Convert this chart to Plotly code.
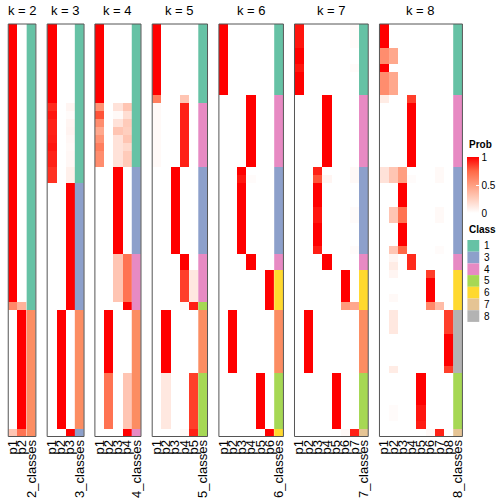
import plotly.graph_objects as go

W = H = 504
ks = [2, 3, 4, 5, 6, 7, 8]
n_rows = 52

class_colors = {1: "#66C2A5", 2: "#FC8D62", 3: "#8DA0CB", 4: "#E78AC3",
                5: "#A6D854", 6: "#FFD92F", 7: "#E5C494", 8: "#B3B3B3"}
legend_classes = [1, 3, 4, 5, 6, 7, 8]

# ---------------- class assignments per row ----------------
classes_k2 = [1] * 36 + [2] * 16
classes_k3 = [1] * 20 + [3] * 16 + [2] * 15 + [3]
classes_k4 = [1] * 18 + [3] * 11 + [4] * 7 + [2] * 15 + [4]
classes_k5 = [1] * 10 + [4] * 8 + [3] * 11 + [4] * 6 + [5] + [2] * 8 + [5] * 8
classes_k6 = [1] * 9 + [4] * 9 + [3] * 11 + [4] * 2 + [6] * 5 + [2] * 8 + [5] * 7 + [6]
classes_k7 = [1] * 9 + [4] * 9 + [3] * 11 + [4] * 2 + [6] * 5 + [2] * 8 + [5] * 7 + [7]
classes_k8 = [1] * 9 + [4] * 9 + [3] * 11 + [4] * 2 + [6] * 5 + [8] * 8 + [5] * 7 + [7]

# ---------------- membership probabilities per row ----------------
prob_k2 = ([[1.00, 0.00]] * 35 + [[0.60, 0.40]] + [[0.00, 1.00]] * 15 + [[0.30, 0.70]])

prob_k3 = ([[1, 0, 0]] * 10
           + [[0.90, 0, 0.05], [0.95, 0, 0.02], [0.92, 0, 0.05], [0.92, 0, 0.06], [0.93, 0, 0.04],
              [0.95, 0, 0.03], [0.92, 0, 0.04], [0.92, 0, 0.04], [0.88, 0, 0.08], [0.88, 0, 0.08]]
           + [[0, 0, 1]] * 16 + [[0, 1, 0]] * 15 + [[0, 0, 1]])

prob_k4 = ([[1, 0, 0, 0]] * 10
           + [[0.55, 0, 0.15, 0.30], [0.80, 0, 0.03, 0.17], [0.58, 0, 0.15, 0.27], [0.45, 0, 0.30, 0.25],
              [0.55, 0, 0.15, 0.30], [0.65, 0, 0.15, 0.20], [0.58, 0, 0.15, 0.27], [0.58, 0, 0.15, 0.27]]
           + [[0, 0, 1, 0]] * 11 + [[0, 0, 0.30, 0.70]] * 6 + [[0, 0, 0, 1]]
           + [[0, 1, 0, 0]] * 8 + [[0, 0.70, 0, 0.30]] * 7 + [[0, 0, 0, 1]])

prob_k5 = ([[1, 0, 0, 0, 0]] * 9 + [[0.65, 0, 0, 0.30, 0]] + [[0.03, 0, 0, 0.92, 0]] * 8
           + [[0, 0, 1, 0, 0]] * 11 + [[0, 0, 0, 1, 0]] * 2 + [[0, 0, 0, 0.85, 0.12]] * 4
           + [[0, 0, 0, 0.03, 0.93]] + [[0, 1, 0, 0, 0]] * 8 + [[0, 0.12, 0, 0, 0.85]] * 7
           + [[0, 0, 0, 0.03, 0.92]])

prob_k6 = ([[1, 0, 0, 0, 0, 0]] * 9 + [[0, 0, 0, 1, 0, 0]] * 9 + [[0, 0, 1, 0, 0, 0]]
           + [[0, 0, 0.95, 0.02, 0, 0]] + [[0, 0, 1, 0, 0, 0]] * 9 + [[0, 0, 0, 1, 0, 0]] * 2
           + [[0, 0, 0, 0, 0, 1]] * 5 + [[0, 1, 0, 0, 0, 0]] * 8 + [[0, 0, 0, 0, 1, 0]] * 7
           + [[0, 0, 0, 0, 0, 1]])

prob_k7 = ([[0.95, 0, 0, 0, 0, 0, 0.02]] * 3 + [[1, 0, 0, 0, 0, 0, 0]] * 2
           + [[0.95, 0, 0, 0, 0, 0, 0.02]] + [[1, 0, 0, 0, 0, 0, 0]] * 3
           + [[0, 0, 0, 1, 0, 0, 0]] * 9
           + [[0, 0, 0.92, 0, 0, 0, 0.03]] + [[0, 0, 0.80, 0.05, 0, 0, 0.03]]
           + [[0, 0, 1, 0, 0, 0, 0]] * 3 + [[0, 0, 0.95, 0, 0, 0, 0.02]] * 2
           + [[0, 0, 1, 0, 0, 0, 0]] * 3 + [[0, 0, 0.93, 0, 0, 0, 0.02]]
           + [[0, 0, 0, 1, 0, 0, 0]] * 2
           + [[0, 0, 0, 0, 0, 1, 0]] * 4 + [[0, 0, 0, 0, 0, 0.52, 0.45]]
           + [[0, 1, 0, 0, 0, 0, 0]] * 8 + [[0, 0, 0, 0, 1, 0, 0]] * 7
           + [[0, 0, 0, 0, 0, 0.03, 0.92]])

prob_k8 = ([[1, 0, 0, 0, 0, 0, 0, 0]] * 3 + [[0.58, 0.45, 0, 0, 0, 0, 0, 0]] * 2
           + [[1, 0, 0, 0, 0, 0, 0, 0]] + [[0.58, 0.45, 0, 0, 0, 0, 0, 0]] * 3
           + [[0.10, 0, 0, 0.85, 0, 0, 0, 0]] + [[0, 0, 0, 1, 0, 0, 0, 0]] * 8
           + [[0.15, 0.30, 0.50, 0, 0, 0, 0.03, 0]] + [[0.15, 0.30, 0.50, 0.02, 0, 0, 0.03, 0]]
           + [[0, 0, 1, 0, 0, 0, 0, 0]] * 3 + [[0, 0.30, 0.70, 0, 0, 0, 0.03, 0]] * 2
           + [[0, 0, 1, 0, 0, 0, 0, 0]] * 3 + [[0, 0.30, 0.75, 0, 0, 0, 0.02, 0]]
           + [[0, 0.05, 0, 0.90, 0, 0, 0, 0]] + [[0, 0.10, 0, 0.90, 0, 0, 0, 0]]
           + [[0, 0.05, 0, 0, 0, 0.85, 0, 0]] + [[0, 0, 0, 0, 0, 1, 0, 0]] * 2
           + [[0, 0.03, 0, 0, 0, 1, 0, 0]] + [[0, 0, 0, 0, 0, 0.60, 0.35, 0]]
           + [[0, 0.12, 0, 0, 0, 0, 0, 0.85]] * 3 + [[0, 0, 0, 0, 0, 0, 0, 1]] * 4
           + [[0, 0.10, 0, 0, 0, 0, 0, 0.85]]
           + [[0, 0, 0, 0, 1, 0, 0, 0]] * 4 + [[0, 0.02, 0, 0, 0.95, 0, 0, 0]] * 2
           + [[0, 0, 0, 0, 0.93, 0, 0, 0]] + [[0, 0, 0, 0, 0, 0.03, 0.92, 0]])

classes_all = [classes_k2, classes_k3, classes_k4, classes_k5, classes_k6, classes_k7, classes_k8]
probs_all = [prob_k2, prob_k3, prob_k4, prob_k5, prob_k6, prob_k7, prob_k8]

# ---------------- layout geometry (pixels) ----------------
col_w = 9.33
panel_left = [5.3, 44.7, 93.0, 151.0, 218.5, 295.0, 381.0]
top_px, bottom_px = 24.0, 436.5

prob_scale = [[0.0, "#FFFFFF"], [0.25, "#FFCFBF"], [0.5, "#FF9E81"],
              [0.75, "#FF6846"], [1.0, "#FF0000"]]
class_scale = []
for c in range(1, 9):
    class_scale.append([(c - 1) / 8, class_colors[c]])
    class_scale.append([c / 8, class_colors[c]])

fig = go.Figure()
shapes = []
annotations = []
rows = list(range(n_rows))

for i, k in enumerate(ks):
    ax = "x" if i == 0 else f"x{i + 1}"
    axname = "xaxis" if i == 0 else f"xaxis{i + 1}"
    left = panel_left[i]
    right = left + col_w * (k + 1)
    dom = [left / W, right / W]

    fig.add_trace(go.Heatmap(
        z=probs_all[i], x=list(range(k)), y=rows, xaxis=ax, yaxis="y",
        zmin=0, zmax=1, colorscale=prob_scale, showscale=(i == 0),
        hoverinfo="skip",
        colorbar=dict(
            x=470 / W, xanchor="left", xpad=0, y=1 - 157 / H, yanchor="top", ypad=0,
            len=56, lenmode="pixels", thickness=12, thicknessmode="pixels",
            outlinewidth=0, tickvals=[0, 0.5, 1], ticktext=["0", "0.5", "1"],
            ticks="inside", ticklen=3, tickcolor="white",
            tickfont=dict(size=10, color="black"),
        ) if i == 0 else None,
    ))
    fig.add_trace(go.Heatmap(
        z=[[c] for c in classes_all[i]], x=[k], y=rows, xaxis=ax, yaxis="y",
        zmin=0.5, zmax=8.5, colorscale=class_scale, showscale=False, hoverinfo="skip",
    ))

    fig.update_layout(**{axname: dict(
        domain=dom, range=[-0.5, k + 0.5], anchor="y",
        tickvals=list(range(k + 1)),
        ticktext=[f"p{j + 1}" for j in range(k)] + [f"{k}_classes"],
        tickangle=-90, tickfont=dict(size=13, color="black"),
        showgrid=False, zeroline=False, showline=False, ticks="", fixedrange=True,
    )})

    shapes.append(dict(type="rect", xref="paper", yref="paper",
                       x0=dom[0], x1=dom[1], y0=1 - bottom_px / H, y1=1 - top_px / H,
                       line=dict(color="#555555", width=1)))
    annotations.append(dict(text=f"k = {k}", xref="paper", yref="paper",
                            x=(dom[0] + dom[1]) / 2, y=1 - 10 / H, showarrow=False,
                            xanchor="center", yanchor="middle",
                            font=dict(size=13, color="black")))

# Prob legend title
annotations.append(dict(text="<b>Prob</b>", xref="paper", yref="paper", x=470 / W,
                        y=1 - 144 / H, xanchor="left", yanchor="middle", showarrow=False,
                        font=dict(size=10, color="black")))

# Class legend
annotations.append(dict(text="<b>Class</b>", xref="paper", yref="paper", x=470 / W,
                        y=1 - 230 / H, xanchor="left", yanchor="middle", showarrow=False,
                        font=dict(size=10, color="black")))
sq = 11.7
for j, c in enumerate(legend_classes):
    y0 = 240 + sq * j
    shapes.append(dict(type="rect", xref="paper", yref="paper",
                       x0=470 / W, x1=482 / W, y0=1 - (y0 + sq) / H, y1=1 - y0 / H,
                       fillcolor=class_colors[c], line=dict(width=0)))
    annotations.append(dict(text=str(c), xref="paper", yref="paper", x=485 / W,
                            y=1 - (y0 + sq / 2) / H, xanchor="left", yanchor="middle",
                            showarrow=False, font=dict(size=10, color="black")))

fig.update_layout(
    width=W, height=H, margin=dict(l=0, r=0, t=0, b=0),
    paper_bgcolor="white", plot_bgcolor="white",
    font=dict(family="Liberation Sans, Arial, sans-serif", color="black"),
    yaxis=dict(domain=[1 - bottom_px / H, 1 - top_px / H], range=[n_rows - 0.5, -0.5],
               visible=False, fixedrange=True),
    shapes=shapes, annotations=annotations, showlegend=False,
)

fig.write_html("out.html", config={"displayModeBar": False},
               post_script="document.body.style.margin='0';document.body.style.overflow='hidden';")
